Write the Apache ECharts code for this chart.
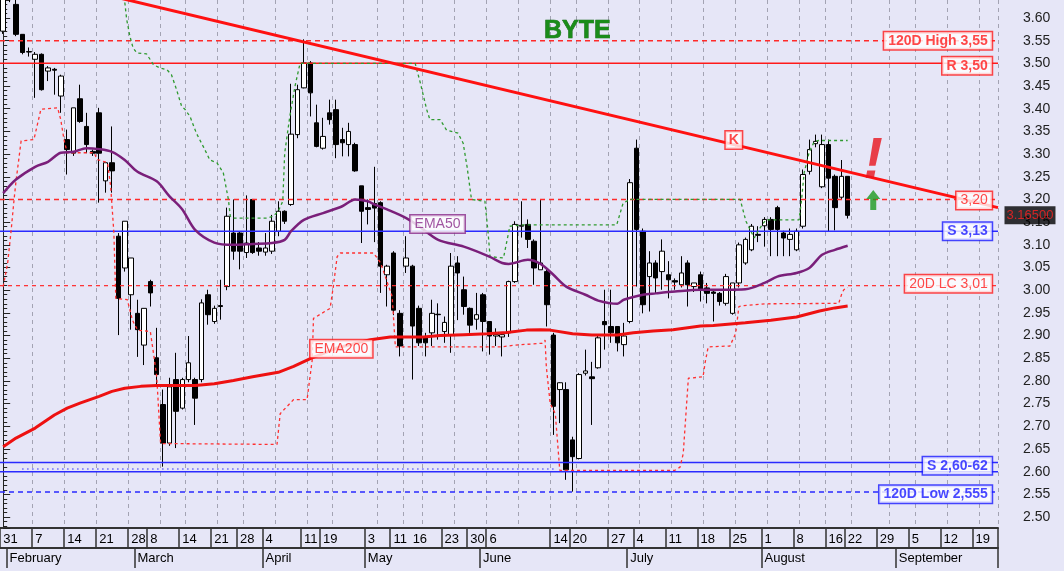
<!DOCTYPE html>
<html><head><meta charset="utf-8">
<script src="https://cdn.jsdelivr.net/npm/echarts@6/dist/echarts.min.js"></script>
<style>html,body{margin:0;padding:0;background:#e6e6f7;}#c{width:1064px;height:571px;}</style>
</head><body><div id="c"></div>
<script>
// ---------- data ----------
const opens = [3.571,3.72,3.630,3.564,3.526,3.509,3.520,3.483,3.487,3.428,
3.332,3.302,3.422,3.361,3.306,3.391,3.241,3.281,3.119,3.049,
2.990,2.949,2.879,3.019,2.851,2.748,2.663,2.803,2.740,2.803,
2.803,2.803,2.990,2.931,2.966,3.008,3.126,3.126,3.083,3.200,
3.093,3.084,3.086,3.130,3.174,3.189,3.343,3.446,3.501,3.369,
3.313,3.391,3.398,3.332,3.321,3.321,3.230,3.182,3.191,3.193,
3.034,3.082,2.949,3.053,3.053,2.960,2.898,2.906,2.947,2.909,
2.901,3.060,3.001,2.960,2.936,2.990,2.931,2.899,2.897,2.906,
3.019,3.141,3.145,3.108,3.045,3.041,2.901,2.781,2.781,2.670,
2.629,2.817,2.809,2.829,2.931,2.920,2.920,2.880,2.931,3.313,
3.130,3.030,3.060,3.041,3.034,3.021,3.012,3.060,3.008,3.034,
3.005,2.996,2.993,2.971,2.949,3.016,3.060,3.089,3.123,3.142,
3.156,3.182,3.126,3.112,3.089,3.141,3.262,3.323,3.228,3.321,
3.251,3.205,3.251];
const closes = [3.66,3.66,3.564,3.524,3.525,3.520,3.442,3.490,3.485,3.472,
3.310,3.402,3.372,3.321,3.302,3.302,3.281,3.263,2.982,3.152,
3.071,2.913,2.960,2.994,2.814,2.663,2.787,2.733,2.803,2.840,
2.762,2.972,2.946,2.960,2.964,3.163,3.086,3.086,3.104,3.083,
3.086,3.093,3.152,3.174,3.152,3.344,3.442,3.501,3.435,3.317,
3.339,3.376,3.321,3.325,3.350,3.263,3.174,3.178,3.181,3.053,
3.053,2.956,2.877,3.071,2.921,2.884,2.884,2.949,2.946,2.929,
3.053,3.038,2.964,2.923,2.946,2.931,2.899,2.902,2.902,3.019,
3.145,3.143,3.112,3.049,3.060,2.968,2.744,2.796,2.604,2.633,
2.814,2.822,2.805,2.895,2.924,2.906,2.884,2.899,3.237,3.134,
2.968,3.060,3.027,3.086,3.023,3.018,3.038,3.012,3.016,3.001,
2.993,2.993,2.975,3.030,3.016,3.100,3.112,3.141,3.121,3.156,
3.134,3.134,3.115,3.123,3.130,3.255,3.310,3.328,3.321,3.247,
3.182,3.251,3.165];
const lows = [3.565,3.635,3.560,3.520,3.515,3.424,3.440,3.461,3.431,3.391,
3.255,3.296,3.369,3.302,3.296,3.193,3.215,3.215,2.901,3.041,
2.913,2.853,2.835,2.964,2.787,2.611,2.657,2.652,2.737,2.797,
2.703,2.797,2.924,2.926,2.935,3.000,3.067,3.046,3.071,3.080,
3.076,3.076,3.080,3.119,3.146,3.186,3.335,3.445,3.383,3.315,
3.310,3.365,3.291,3.295,3.295,3.261,3.104,3.145,3.106,2.994,
2.964,2.945,2.854,3.038,2.803,2.877,2.854,2.877,2.891,2.884,
2.862,2.934,2.946,2.906,2.913,2.865,2.858,2.877,2.854,2.897,
3.016,3.116,3.093,3.012,3.045,2.920,2.681,2.707,2.582,2.556,
2.627,2.812,2.703,2.827,2.869,2.884,2.865,2.854,2.927,3.008,
2.949,2.953,2.993,3.001,2.982,3.001,3.006,2.964,2.996,2.975,
2.971,2.931,2.966,2.966,2.946,3.006,3.056,3.086,3.106,3.096,
3.075,3.075,3.075,3.075,3.086,3.136,3.255,3.315,3.225,3.130,
3.132,3.200,3.158];
const highs = [3.70,3.73,3.645,3.564,3.535,3.525,3.522,3.494,3.490,3.475,
3.354,3.402,3.453,3.391,3.310,3.402,3.281,3.361,3.126,3.152,
3.071,2.979,2.960,3.023,2.917,2.781,2.807,2.862,2.807,2.899,
2.807,2.980,3.001,2.966,3.023,3.182,3.200,3.130,3.209,3.201,
3.106,3.126,3.166,3.196,3.176,3.455,3.453,3.553,3.505,3.409,
3.380,3.420,3.420,3.358,3.369,3.325,3.230,3.200,3.272,3.196,
3.056,3.086,2.956,3.119,3.056,2.966,2.906,2.979,2.971,2.942,
3.082,3.075,3.030,2.962,2.994,2.994,2.932,2.916,2.907,3.021,
3.152,3.196,3.156,3.112,3.200,3.046,2.906,2.797,2.797,2.677,
2.817,2.869,2.842,2.900,3.001,3.001,2.921,2.928,3.245,3.332,
3.136,3.086,3.066,3.112,3.064,3.026,3.075,3.066,3.016,3.041,
3.016,3.001,2.996,3.036,3.016,3.105,3.116,3.146,3.141,3.161,
3.161,3.186,3.131,3.136,3.136,3.266,3.332,3.343,3.343,3.332,
3.255,3.287,3.251];

const ema50 = [[0,3.214],[2,3.244],[5,3.272],[7,3.283],[9,3.303],[11,3.305],[13,3.313],[15,3.311],[17,3.305],[19,3.287],
[21,3.261],[24,3.240],[26,3.207],[28,3.178],[30,3.133],[33,3.105],[36,3.100],[39,3.102],[42,3.104],[44,3.111],
[45,3.130],[47,3.155],[50,3.170],[53,3.185],[55,3.200],[57,3.196],[58,3.189],[60,3.178],[63,3.159],[65,3.141],
[68,3.111],[72,3.096],[76,3.074],[78,3.060],[79,3.058],[82,3.067],[84,3.058],[86,3.034],[88,3.008],[91,2.990],
[93,2.977],[96,2.970],[97,2.979],[100,2.990],[102,2.993],[105,2.997],[109,3.001],[113,3.001],[116,3.002],[119,3.016],
[121,3.030],[124,3.038],[126,3.049],[128,3.078],[130,3.089],[132,3.098]];
const ema200 = [[0,2.655],[2,2.674],[5,2.696],[8,2.725],[10,2.740],[12,2.751],[15,2.766],[17,2.777],[19,2.784],[21.5,2.788],
[24,2.790],[27,2.790],[30,2.790],[33,2.794],[36,2.801],[39,2.809],[43,2.819],[45.4,2.832],[48,2.849],[52,2.872],
[57.4,2.891],[60.5,2.897],[65.7,2.897],[68.3,2.900],[72,2.902],[75.6,2.904],[78.7,2.907],[81.8,2.912],[84,2.913],[85.5,2.912],
[89,2.904],[92,2.901],[96,2.901],[98.5,2.906],[101.6,2.910],[104.7,2.913],[109,2.921],[111,2.922],[116,2.928],[120,2.934],
[124,2.941],[127.6,2.954],[130,2.961],[132,2.965]];
const lowestClose20 = [[0,3.008],[0.7,3.06],[1.2,3.126],[1.7,3.20],[2,3.24],[2.8,3.329],[4.8,3.332],[5.9,3.399],[8.5,3.402],[9,3.376],
[9.5,3.332],[10,3.303],[14.2,3.303],[14.7,3.288],[16.3,3.281],[16.8,3.229],[17.3,3.126],[17.6,2.982],[19.4,2.979],[20.2,2.934],
[21,2.912],[23,2.909],[23.6,2.85],[24,2.809],[24.6,2.662],[42.8,2.66],[43.3,2.728],[45.4,2.759],[47.5,2.759],[48.3,2.846],
[48.5,2.938],[51.1,2.96],[51.6,3.008],[52.2,3.074],[52.7,3.082],[57.9,3.082],[59,3.06],[60.8,2.986],[61.3,2.875],[77.9,2.875],
[80,2.879],[84.2,2.883],[84.7,2.89],[84.9,2.831],[85.5,2.75],[86.3,2.728],[87,2.603],[105,2.603],[105.8,2.61],[106.3,2.64],
[107.1,2.806],[109.4,2.809],[109.7,2.839],[110.2,2.875],[113.6,2.877],[114.5,2.905],[115,2.964],[115.8,2.966],[119.1,2.97],[130.6,2.971],
[131.1,2.993],[131.4,3.001],[132,3.006]];
const highestClose20 = [[18.5,3.70],[19.3,3.597],[19.8,3.560],[20.3,3.534],[20.9,3.523],[22.4,3.521],[23.5,3.497],[24.5,3.490],[25.6,3.486],[26.3,3.475],
[27.1,3.442],[27.9,3.405],[28.4,3.399],[29.2,3.383],[30.2,3.346],[31.3,3.316],[32.3,3.287],[33.4,3.281],[34.4,3.259],[35.2,3.20],
[35.5,3.163],[36,3.159],[41.2,3.159],[42.2,3.163],[43,3.174],[43.7,3.196],[44,3.302],[44.8,3.383],[45.6,3.449],[46.4,3.50],
[64.4,3.50],[65.2,3.457],[66.2,3.398],[66.7,3.376],[68.3,3.376],[69.3,3.353],[71.1,3.346],[71.9,3.324],[72.5,3.273],[73.2,3.20],
[75.3,3.196],[75.8,3.126],[76.1,3.074],[78.2,3.071],[79.2,3.141],[81.3,3.144],[95.9,3.144],[96.9,3.192],[98,3.20],[115.2,3.20],
[116.1,3.152],[117.4,3.115],[118.1,3.133],[119.2,3.155],[124.4,3.155],[124.8,3.20],[125.2,3.259],[126,3.305],[126.8,3.328],[127.5,3.330],
[132,3.330]];
const trendLine = [[-0.5,3.707],[155.5,3.182]];
const supportDotted = [[3,2.606],[86.5,2.606]];

const slotCount = 156;
const weekLabels = [[0,'31'],[5,'7'],[10,'14'],[15,'21'],[20,'28'],[23,'8'],[28,'14'],[33,'21'],[37,'28'],[41,'4'],
[47,'11'],[50,'19'],[57,'3'],[61,'11'],[64,'16'],[69,'23'],[73,'30'],[76,'6'],[86,'14'],[89,'20'],
[95,'27'],[99,'4'],[104,'11'],[109,'18'],[114,'25'],[119,'1'],[124,'8'],[129,'16'],[132,'22'],[137,'29'],
[142,'5'],[147,'12'],[152,'19']];
const weekTickless = [64];
const monthLabels = [[1,'February'],[21,'March'],[41,'April'],[57,'May'],[75,'June'],[98,'July'],[119,'August'],[140,'September']];
const gridWeeks = [5,10,15,20,25,29,34,38,43,48,52,59,63,66,71,76,81,86,90,95,100,105,110,115,120,125,129,133,139,143,148,153];

const high120 = 3.55, resistance = 3.50, level320 = 3.20, support313 = 3.13, lowClose20 = 3.01,
      support262 = 2.62, support260 = 2.60, low120 = 2.555, lastPrice = 3.165;

// ---------- chart ----------
const FONT = 'Liberation Sans, Arial, sans-serif';
const categories = Array.from({length: slotCount}, (_, i) => String(i));
const candles = opens.map((o, i) => [o, closes[i], lows[i], highs[i]]);
const weekMap = {}; weekLabels.forEach(([i, t]) => weekMap[i] = t);
const monthMap = {}; monthLabels.forEach(([i, t]) => monthMap[i] = t);
const gridSet = new Set(gridWeeks);
const X0 = -0.5, X1 = slotCount - 0.5;

function hLine(v, color, type, width) {
  return {type: 'line', xAxisIndex: 2, yAxisIndex: 0, data: [[X0, v], [X1, v]], symbol: 'none',
    lineStyle: {color: color, type: type, width: width}, silent: true, z: 3};
}
function lineSeries(data, color, width, type, z, smooth) {
  return {type: 'line', xAxisIndex: 2, yAxisIndex: 0, data: data, symbol: 'none', smooth: smooth || false,
    lineStyle: {color: color, width: width, type: type}, silent: true, z: z};
}
const RED = '#ff1a1a', BLUE = '#1a1aff';
function box(color, bold) {
  return {show: true, position: 'left', distance: 0, color: color, fontFamily: FONT, fontSize: 14,
    fontWeight: bold ? 'bold' : 'normal', backgroundColor: '#ffffff', borderColor: color, borderWidth: 1.5,
    padding: [2, 4, 1, 4]};
}
const labelX = 154.6;
const labelPoints = [
  {value: [labelX, high120], label: Object.assign(box(RED, true), {formatter: '120D High 3,55'})},
  {value: [labelX, 3.495], label: Object.assign(box(RED, true), {formatter: 'R 3,50'})},
  {value: [labelX, 3.198], label: Object.assign(box(RED, false), {formatter: '3,20'})},
  {value: [labelX, support313], label: Object.assign(box(BLUE, true), {formatter: 'S 3,13'})},
  {value: [labelX, 3.014], label: Object.assign(box(RED, false), {formatter: '20D LC 3,01'})},
  {value: [labelX, 2.613], label: Object.assign(box(BLUE, true), {formatter: 'S 2,60-62'})},
  {value: [labelX, 2.550], label: Object.assign(box(BLUE, true), {formatter: '120D Low 2,555'})},
  {value: [114.2, 3.331], label: Object.assign(box(RED, true), {formatter: 'K', position: 'inside', padding: [2, 3, 1, 3]})},
  {value: [63.6, 3.146], label: Object.assign(box('#8a2a8a', false), {formatter: 'EMA50', position: 'right'})},
  {value: [47.96, 2.871], label: Object.assign(box(RED, false), {formatter: 'EMA200', position: 'right'})},
  {value: [136.0, 3.283], label: {show: true, position: 'inside', formatter: '!', color: '#e8141b',
     fontSize: 58, fontWeight: 'bold', fontStyle: 'italic', fontFamily: FONT}},
  {value: [X1, lastPrice], label: {show: true, position: 'right', distance: 6, formatter: '3.16500', color: '#ff2020',
     backgroundColor: '#000000', fontFamily: FONT, fontSize: 13, padding: [3, 2, 2, 2]}}
];

const chart = echarts.init(document.getElementById('c'), null, {renderer: 'canvas'});
chart.setOption({
  animation: false,
  backgroundColor: '#e6e6f7',
  title: {text: 'BYTE', left: 539, top: 14,
    textStyle: {color: '#1a8c1a', fontSize: 25, fontWeight: 'bold', fontFamily: FONT,
      textBorderColor: '#0b5a0b', textBorderWidth: 0.6}},
  grid: {left: 0, right: 66, top: 0, bottom: 43, containLabel: false},
  xAxis: [
    {type: 'category', gridIndex: 0, data: categories, boundaryGap: true, position: 'bottom',
      axisLine: {show: true, lineStyle: {color: '#333', width: 2}},
      axisTick: {show: true, length: 20, lineStyle: {color: '#333', width: 1.5},
        interval: (i) => weekMap[i] !== undefined && weekTickless.indexOf(i) < 0},
      axisLabel: {show: true, interval: (i) => weekMap[i] !== undefined, formatter: (v) => weekMap[+v] || '',
        align: 'left', margin: 5, fontSize: 13, color: '#000', fontFamily: FONT},
      splitLine: {show: true, interval: (i) => gridSet.has(i), lineStyle: {color: '#a3a3b3', type: [4, 4], width: 1}}},
    {type: 'category', gridIndex: 0, data: categories, boundaryGap: true, position: 'bottom', offset: 20,
      axisLine: {show: true, lineStyle: {color: '#333', width: 2}},
      axisTick: {show: true, length: 20, lineStyle: {color: '#333', width: 1.5},
        interval: (i) => monthMap[i] !== undefined},
      axisLabel: {show: true, interval: (i) => monthMap[i] !== undefined, formatter: (v) => monthMap[+v] || '',
        align: 'left', margin: 4, fontSize: 13, color: '#000', fontFamily: FONT},
      splitLine: {show: false}},
    {type: 'value', gridIndex: 0, min: X0, max: X1, show: false}
  ],
  yAxis: [{type: 'value', position: 'right', min: 2.4758, max: 3.6397, splitNumber: 23,
    minInterval: 0.05, maxInterval: 0.05, scale: true,
    axisLine: {show: true, lineStyle: {color: '#222', width: 1}},
    axisTick: {show: true, length: 7, lineStyle: {color: '#222'}},
    minorTick: {show: true, splitNumber: 5, length: 4, lineStyle: {color: '#222'}},
    axisLabel: {margin: 25, fontSize: 14, color: '#222', fontFamily: FONT, showMinLabel: false, showMaxLabel: false,
      formatter: (v) => v.toFixed(2)},
    splitLine: {show: false}}],
  series: [
    {type: 'candlestick', xAxisIndex: 0, yAxisIndex: 0, data: candles, barWidth: 5, z: 2,
      itemStyle: {color: '#ffffff', color0: '#000000', borderColor: '#000000', borderColor0: '#000000', borderWidth: 1}},
    hLine(high120, '#ff2a2a', [5, 4], 1.5),
    hLine(resistance, '#ff1a1a', 'solid', 1.5),
    hLine(level320, '#ff2a2a', [5, 4], 1.5),
    hLine(support313, '#2a2aff', 'solid', 1.5),
    hLine(lowClose20, '#ff2a2a', [4, 4], 1.2),
    hLine(support262, '#2a2aff', 'solid', 1.5),
    hLine(support260, '#2a2aff', 'solid', 1.5),
    hLine(low120, '#2a2aff', [5, 4], 1.5),
    lineSeries(supportDotted, '#2a2aff', 1.5, [1, 4], 3),
    lineSeries(lowestClose20, '#ff3030', 1.3, [3, 3], 4),
    lineSeries(highestClose20, '#2f9a2f', 1.3, [3, 3], 4),
    lineSeries(ema200, '#ee1111', 3, 'solid', 5),
    lineSeries(ema50, '#7a1f7a', 2.5, 'solid', 5, 0.3),
    lineSeries(trendLine, '#ff1111', 3, 'solid', 6),
    {type: 'scatter', xAxisIndex: 2, yAxisIndex: 0, symbol: 'path://M7,0 L14,9 L10,9 L10,20 L4,20 L4,9 L0,9 Z',
      symbolSize: [14, 20], itemStyle: {color: '#1e9a1e'}, data: [[136.0, 3.199]], z: 8, silent: true},
    {type: 'scatter', xAxisIndex: 2, yAxisIndex: 0, symbolSize: 1, itemStyle: {color: 'rgba(0,0,0,0)'},
      data: labelPoints, zlevel: 1, z: 10, clip: false, silent: true}
  ]
});
</script></body></html>
